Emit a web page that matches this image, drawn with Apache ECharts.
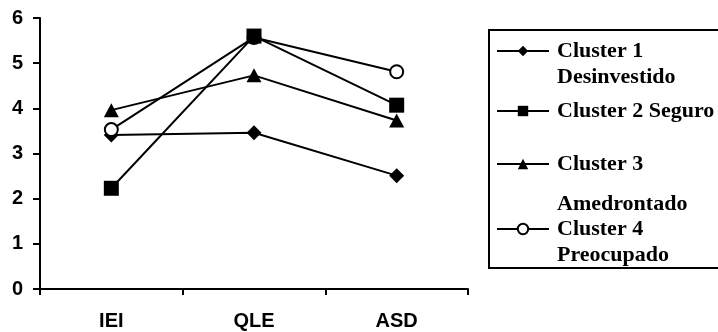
<!DOCTYPE html>
<html>
<head>
<meta charset="utf-8">
<script src="https://cdn.jsdelivr.net/npm/echarts@6/dist/echarts.min.js"></script>
<style>
html,body{margin:0;padding:0;background:#fff;}
#chart{width:718px;height:332px;}
</style>
</head>
<body>
<div id="chart"></div>
<script>
const categories = ['IEI', 'QLE', 'ASD'];
const yTicks = [0, 1, 2, 3, 4, 5, 6];
const cluster1 = [3.41, 3.46, 2.51];
const cluster2 = [2.23, 5.60, 4.07];
const cluster3 = [3.96, 4.73, 3.73];
const cluster4 = [3.53, 5.57, 4.81];
const seriesNames = ['Cluster 1 Desinvestido', 'Cluster 2 Seguro', 'Cluster 3 Amedrontado', 'Cluster 4 Preocupado'];
const legendLine1 = ['Cluster 1', 'Cluster 2 Seguro', 'Cluster 3', 'Cluster 4'];
const legendLine2 = ['Desinvestido', '', 'Amedrontado', 'Preocupado'];

const chart = echarts.init(document.getElementById('chart'), null, {renderer: 'canvas'});

const axisFont = {fontFamily: 'Liberation Sans, Arial, sans-serif', fontWeight: 'bold', fontSize: 20, color: '#000'};
const legFont = 'Liberation Serif, Times New Roman, serif';
const legSize = 22;

function mkSeries(name, data, symbol, size, z, empty) {
  return {
    name: name,
    type: 'line',
    data: data,
    symbol: symbol,
    symbolSize: size,
    showSymbol: true,
    z: z,
    lineStyle: {color: '#000', width: 2},
    itemStyle: empty ? {color: '#000', borderColor: '#000', borderWidth: 1.6} : {color: '#000', borderWidth: 0},
    emphasis: {disabled: true},
    animation: false
  };
}

function mkLegend(i, top, lh1, lh2) {
  const l2 = legendLine2[i];
  const tok = {fontSize: legSize, fontWeight: 'bold', fontFamily: legFont, color: '#000', padding: [0, 0, 0, 3]};
  return {
    data: [seriesNames[i]],
    left: 496,
    top: top,
    padding: 0,
    itemWidth: 52,
    itemHeight: 13,
    selectedMode: false,
    formatter: function () {
      if (l2) return '{e| }\n{t|' + legendLine1[i] + '}\n{b|' + l2 + '}';
      return '{t|' + legendLine1[i] + '}';
    },
    textStyle: {
      fontFamily: legFont, fontWeight: 'bold', fontSize: legSize, color: '#000',
      rich: {
        e: {lineHeight: lh2, fontSize: legSize, fontFamily: legFont},
        t: Object.assign({lineHeight: lh1}, tok),
        b: Object.assign({lineHeight: lh2}, tok)
      }
    }
  };
}

const option = {
  animation: false,
  backgroundColor: '#fff',
  grid: {left: 40, right: 250, top: 18, bottom: 43, containLabel: false, outerBoundsMode: 'none'},
  xAxis: {
    type: 'category',
    data: categories,
    boundaryGap: true,
    axisLine: {show: true, lineStyle: {color: '#000', width: 2}},
    axisTick: {show: true, alignWithLabel: false, length: 6, lineStyle: {color: '#000', width: 2}},
    axisLabel: Object.assign({margin: 22, interval: 0}, axisFont),
    splitLine: {show: false}
  },
  yAxis: {
    type: 'value',
    min: yTicks[0],
    max: yTicks[yTicks.length - 1],
    interval: 1,
    axisLine: {show: true, lineStyle: {color: '#000', width: 2}},
    axisTick: {show: true, length: 7, lineStyle: {color: '#000', width: 2}},
    axisLabel: Object.assign({margin: 17}, axisFont),
    splitLine: {show: false}
  },
  legend: [
    mkLegend(0, 14, 26, 26),
    mkLegend(1, 100, 26, 26),
    mkLegend(2, 113, 26, 54),
    mkLegend(3, 192, 26, 26)
  ],
  graphic: [{
    type: 'rect',
    shape: {x: 489, y: 30, width: 240, height: 238},
    style: {fill: 'none', stroke: '#000', lineWidth: 2},
    silent: true
  }],
  series: [
    mkSeries(seriesNames[0], cluster1, 'diamond', 15, 2, false),
    mkSeries(seriesNames[1], cluster2, 'rect', 15, 5, false),
    mkSeries(seriesNames[2], cluster3, 'triangle', [15, 14], 3, false),
    mkSeries(seriesNames[3], cluster4, 'emptyCircle', 13, 4, true)
  ]
};
chart.setOption(option);
</script>
</body>
</html>
